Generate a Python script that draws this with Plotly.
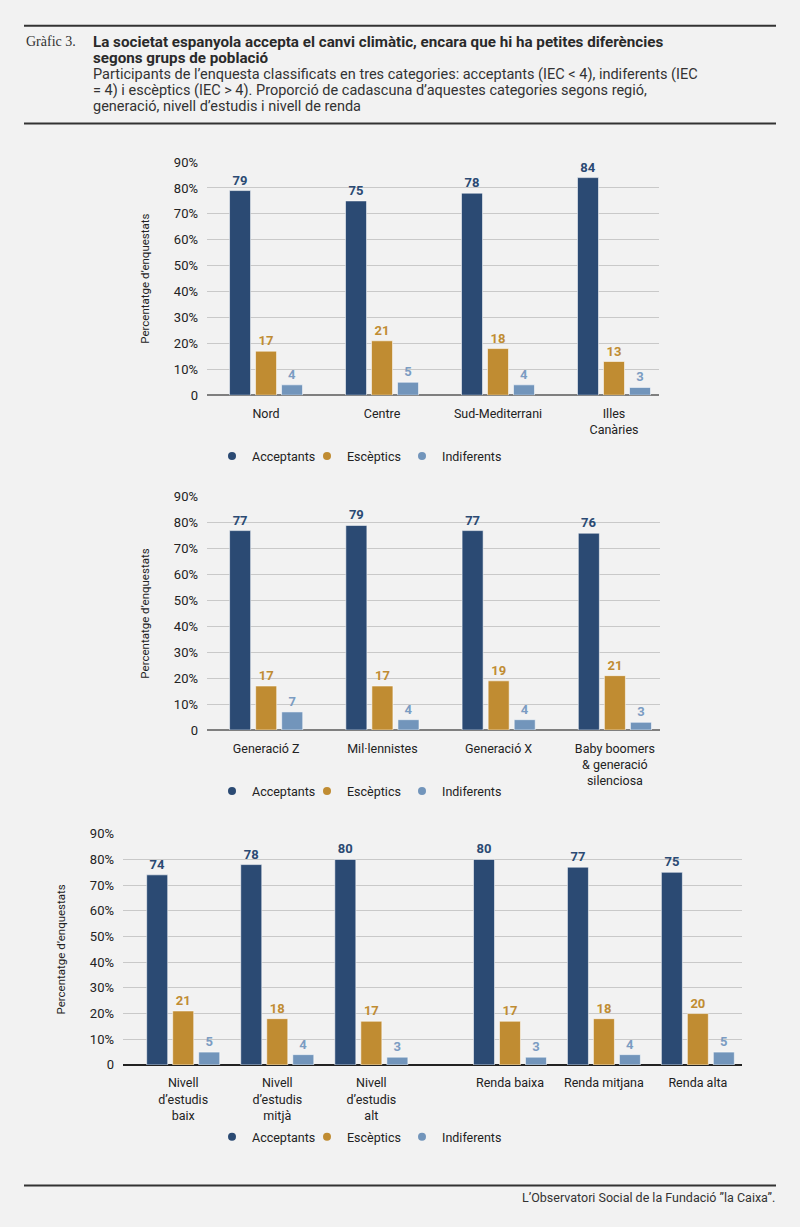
import plotly.graph_objects as go

W, H = 800, 1227

# colours
NAVY = "#2b4a73"
GOLD = "#c08c32"
LIGHT = "#7295bb"
LIGHT_TXT = "#7b9cc2"
BG = "#f2f2f2"

series_names = ["Acceptants", "Escèptics", "Indiferents"]

# regió
cats_regio = ["Nord", "Centre", "Sud-Mediterrani", "Illes<br>Canàries"]
acc_regio = [79, 75, 78, 84]
esc_regio = [17, 21, 18, 13]
ind_regio = [4, 5, 4, 3]

# generació
cats_gen = ["Generació Z", "Mil·lennistes", "Generació X", "Baby boomers<br>& generació<br>silenciosa"]
acc_gen = [77, 79, 77, 76]
esc_gen = [17, 17, 19, 21]
ind_gen = [7, 4, 4, 3]

# nivell d'estudis
cats_estudis = ["Nivell<br>d’estudis<br>baix", "Nivell<br>d’estudis<br>mitjà", "Nivell<br>d’estudis<br>alt"]
acc_estudis = [74, 78, 80]
esc_estudis = [21, 18, 17]
ind_estudis = [5, 4, 3]

# nivell de renda
cats_renda = ["Renda baixa", "Renda mitjana", "Renda alta"]
acc_renda = [80, 77, 75]
esc_renda = [17, 18, 20]
ind_renda = [3, 4, 5]

y_ticks = [0, 10, 20, 30, 40, 50, 60, 70, 80, 90]
y_ticktext = ["0"] + [f"{v}%" for v in y_ticks[1:]]

title_lines = [
    "La societat espanyola accepta el canvi climàtic, encara que hi ha petites diferències",
    "segons grups de població",
]
subtitle_lines = [
    "Participants de l’enquesta classificats en tres categories: acceptants (IEC &lt; 4), indiferents (IEC",
    "= 4) i escèptics (IEC &gt; 4). Proporció de cadascuna d’aquestes categories segons regió,",
    "generació, nivell d’estudis i nivell de renda",
]


def fx(px):
    return px / W


def fy(py):
    return 1 - py / H


FONT = "Roboto"
bar_colors = [NAVY, GOLD, LIGHT]
text_colors = [NAVY, GOLD, LIGHT_TXT]

fig = go.Figure()


def add_group(cats, values, xa, ya, spacing):
    # bars are 21px wide, 26px apart; spacing = px per category on this axis
    for i, vals in enumerate(values):
        fig.add_trace(go.Bar(
            x=cats, y=vals, xaxis=xa, yaxis=ya,
            width=21 / spacing,
            offset=((i - 1) * 26 - 10.5) / spacing,
            marker=dict(color=bar_colors[i], line=dict(color="rgba(255,255,255,0.55)", width=1)),
            text=vals, texttemplate="%{text}", textposition="outside",
            textfont=dict(family=FONT, size=13, color=text_colors[i], weight="bold"),
            cliponaxis=False, showlegend=False, hoverinfo="skip",
        ))


add_group(cats_regio, [acc_regio, esc_regio, ind_regio], "x", "y", 116)
add_group(cats_gen, [acc_gen, esc_gen, ind_gen], "x2", "y2", 116)
add_group(cats_estudis, [acc_estudis, esc_estudis, ind_estudis], "x3", "y3", 94)
add_group(cats_renda, [acc_renda, esc_renda, ind_renda], "x4", "y3", 94)

# legend entries (round markers); a blank last entry keeps the final label from being clipped
for lg, xa, ya in [("legend", "x", "y"), ("legend2", "x2", "y2"), ("legend3", "x3", "y3")]:
    for i, name in enumerate(series_names):
        fig.add_trace(go.Scatter(
            x=[None], y=[None], xaxis=xa, yaxis=ya, mode="markers", name=name,
            marker=dict(color=bar_colors[i], size=8, symbol="circle"),
            legend=lg, showlegend=True,
        ))
    fig.add_trace(go.Scatter(
        x=[None], y=[None], xaxis=xa, yaxis=ya, mode="markers", name=" ",
        marker=dict(color="rgba(0,0,0,0)", size=1), legend=lg, showlegend=True,
    ))


def xax(dom, rng, anchor):
    return dict(domain=[fx(dom[0]), fx(dom[1])], range=rng, anchor=anchor, type="category",
                showgrid=False, showline=False, ticks="",
                tickfont=dict(family=FONT, size=12.5, color="#222222"),
                ticklabelstandoff=9, fixedrange=True)


def yax(dom, anchor, zcolor, zwidth):
    return dict(domain=[fy(dom[1]), fy(dom[0])], range=[0, 90], anchor=anchor,
                tickvals=y_ticks, ticktext=y_ticktext,
                tickfont=dict(family=FONT, size=13, color="#222222"),
                showgrid=True, gridcolor="#c9c9c9", gridwidth=1,
                zeroline=True, zerolinecolor=zcolor, zerolinewidth=zwidth,
                showline=False, ticks="", ticklabelstandoff=8,
                title=dict(text="Percentatge d’enquestats", standoff=21,
                           font=dict(family=FONT, size=11.5, color="#222222")),
                fixedrange=True)


legend_common = dict(orientation="h", xanchor="left", yanchor="middle",
                     entrywidth=50, entrywidthmode="pixels",
                     font=dict(family=FONT, size=12.5, color="#222222"),
                     bgcolor="rgba(0,0,0,0)", itemclick=False, itemdoubleclick=False)

fig.update_layout(
    width=W, height=H, autosize=False,
    margin=dict(l=0, r=0, t=0, b=0),
    paper_bgcolor=BG, plot_bgcolor=BG,
    barmode="overlay",
    xaxis=xax((207, 659), [-0.509, 3.388], "y"),
    yaxis=yax((157, 393), "x", "#7f7f7f", 2),
    xaxis2=xax((207, 660), [-0.509, 3.388], "y2"),
    yaxis2=yax((496, 732), "x2", "#7f7f7f", 2),
    xaxis3=xax((123, 440), [-0.64, 2.73], "y3"),
    xaxis4=xax((440, 742), [-0.745, 2.47], "y3"),
    yaxis3=yax((837, 1071), "x3", "#222222", 1.5),
    legend=dict(legend_common, x=fx(212), y=fy(455)),
    legend2=dict(legend_common, x=fx(212), y=fy(794)),
    legend3=dict(legend_common, x=fx(212), y=fy(1144)),
)

# header & footer rules
for py in [19, 118, 1193]:
    fig.add_shape(type="line", xref="paper", yref="paper",
                  x0=fx(24), x1=fx(776), y0=fy(py), y1=fy(py),
                  line=dict(color="#333333", width=2))

fig.add_annotation(
    text="Gràfic 3.", xref="paper", yref="paper", x=fx(24), y=fy(35),
    xanchor="left", yanchor="middle", showarrow=False,
    font=dict(family="Liberation Serif", size=14, color="#333333"))

for k, line in enumerate(title_lines):
    fig.add_annotation(
        text=f"<b>{line}</b>", xref="paper", yref="paper", x=fx(91), y=fy(35 + 16.7 * k),
        xanchor="left", yanchor="middle", showarrow=False,
        font=dict(family=FONT, size=15.2, color="#2a2a2a"))

for k, line in enumerate(subtitle_lines):
    fig.add_annotation(
        text=line, xref="paper", yref="paper", x=fx(91), y=fy(68.5 + 16.2 * k),
        xanchor="left", yanchor="middle", showarrow=False,
        font=dict(family=FONT, size=14.5, color="#333333"))

fig.add_annotation(
    text="L’Observatori Social de la Fundació ”la Caixa”.",
    xref="paper", yref="paper", x=fx(777), y=fy(1205), xanchor="right", yanchor="middle",
    showarrow=False, font=dict(family=FONT, size=12.5, color="#333333"))

page_css = (
    "var s=document.documentElement.style, b=document.body.style;"
    "s.margin=b.margin='0'; s.padding=b.padding='0';"
    "s.overflow=b.overflow='hidden'; s.background=b.background='#f2f2f2';"
    "b.height='1227px'; b.lineHeight='0';"
)

fig.write_html("out.html", config={"displayModeBar": False}, post_script=page_css)
